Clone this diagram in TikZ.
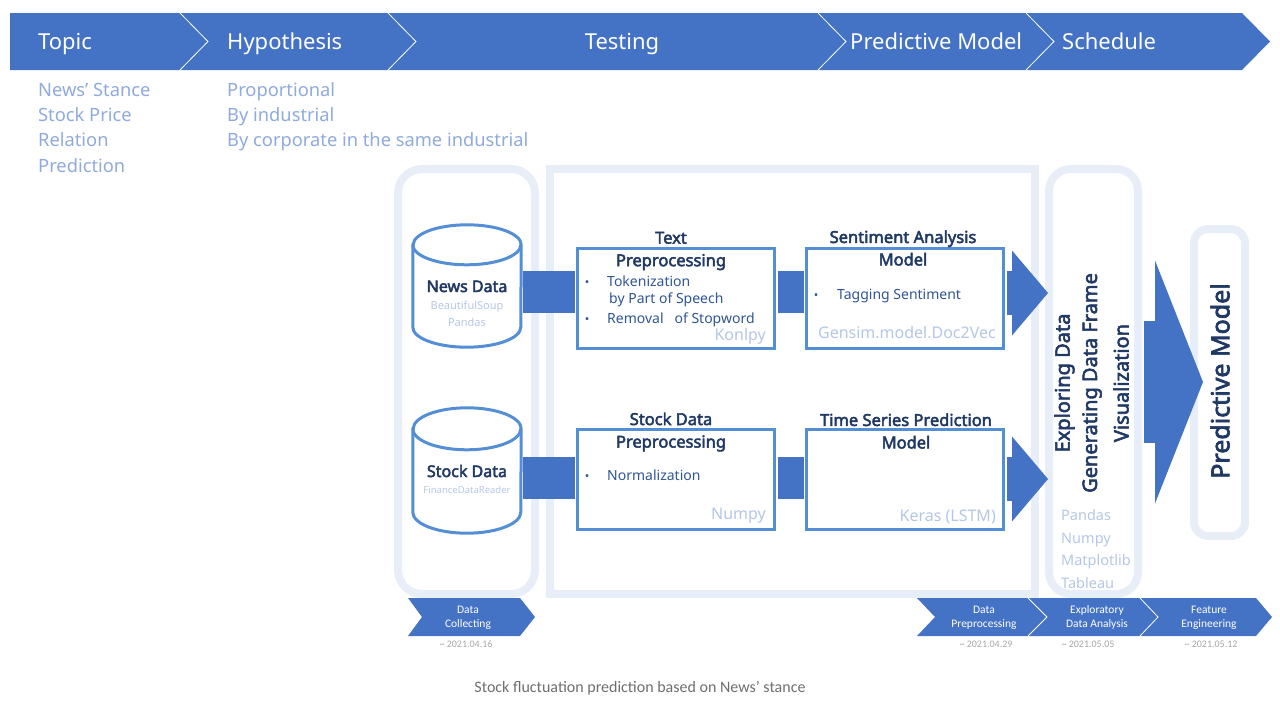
\documentclass[tikz,border=0pt]{standalone}
\usepackage{fontspec}
\setmainfont{Noto Sans}[AutoFakeBold=2.8]
\newfontfamily\chevfont{Carlito}
\usetikzlibrary{arrows.meta}
\definecolor{bannerblue}{RGB}{68,114,196}
\definecolor{boxblue}{RGB}{84,142,213}
\definecolor{framegray}{RGB}{232,238,248}
\definecolor{navy}{RGB}{32,56,100}
\definecolor{midnavy}{RGB}{47,85,151}
\definecolor{paleblue}{RGB}{180,199,231}
\definecolor{softblue}{RGB}{143,170,220}
\definecolor{dategray}{RGB}{166,166,166}
\definecolor{capgray}{RGB}{110,110,110}
\newcommand{\fsz}[2]{\fontsize{#1}{#2}\selectfont}
\begin{document}
\begin{tikzpicture}[x=1pt, y=-1pt,
  banner/.style={fill=bannerblue},
  sepline/.style={draw=white, line width=0.8pt},
  headtxt/.style={text=white, font=\fsz{22}{26}, inner sep=0pt},
  softtxt/.style={text=softblue, font=\fsz{18.3}{22}, inner sep=0pt, anchor=base west},
  stageframe/.style={draw=framegray, line width=8pt, inner sep=0pt},
  procbox/.style={draw=boxblue, fill=white, line width=3pt, minimum width=197pt, minimum height=100pt, inner sep=0pt},
  dbnode/.style={minimum width=108pt, inner sep=0pt},
  dbline/.style={draw=boxblue, line width=3pt},
  linkbar/.style={draw=bannerblue, line width=42pt, shorten <=1.5pt, shorten >=1.5pt},
  blockarrow/.style={draw=bannerblue, line width=44pt, shorten <=1.5pt, -{Triangle[length=36pt, width=85pt, line width=0pt]}},
  bigarrow/.style={draw=bannerblue, line width=122pt, shorten <=2pt, -{Triangle[length=48pt, width=243pt, line width=0pt]}},
  ttl/.style={text=navy, font=\bfseries\fsz{16.5}{22.5}, align=center, inner sep=0pt},
  dbttl/.style={text=navy, font=\bfseries\fsz{16}{18}, inner sep=0pt, anchor=base},
  dbsub/.style={text=paleblue, inner sep=0pt, anchor=base},
  dot/.style={text=midnavy, font=\fsz{12}{13}, inner sep=0pt, anchor=base},
  blt/.style={text=midnavy, font=\fsz{14}{17}, inner sep=0pt, anchor=base west},
  libtxt/.style={text=paleblue, font=\fsz{16}{19}, inner sep=0pt, anchor=base east},
  edatxt/.style={text=navy, font=\bfseries\fsz{20}{22}, inner sep=0pt, rotate=90},
  edalib/.style={text=paleblue, font=\fsz{14.5}{17}, inner sep=0pt, anchor=base west},
  pmtxt/.style={text=navy, font=\bfseries\fsz{25}{28}, inner sep=0pt, rotate=90},
  chevtxt/.style={text=white, font=\chevfont\fsz{11.5}{14}, align=center, inner sep=0pt},
  datetxt/.style={text=dategray, font=\chevfont\fsz{10}{12}, inner sep=0pt, anchor=base},
  captxt/.style={text=capgray, font=\chevfont\fsz{16}{19}, inner sep=0pt, anchor=base}]
\useasboundingbox (0,0) rectangle (1280,720);
% top banner
\fill[banner] (10,13) -- (1242,13) -- (1270,41.5) -- (1242,70) -- (10,70) -- cycle;
\draw[sepline] (180,13) -- (208,41.5) -- (180,70);
\draw[sepline] (388,13) -- (416,41.5) -- (388,70);
\draw[sepline] (818,13) -- (846,41.5) -- (818,70);
\draw[sepline] (1026,13) -- (1054,41.5) -- (1026,70);
\node[headtxt, anchor=base west] (topic) at (38,49) {Topic};
\node[headtxt, anchor=base west] (hypo) at (227,49) {Hypothesis};
\node[headtxt, anchor=base] (testing) at (622,49) {Testing};
\node[headtxt, anchor=base west] (predmodel) at (850,49) {Predictive Model};
\node[headtxt, anchor=base west] (schedule) at (1062,49) {Schedule};
\node[softtxt] (stance) at (38,96.5) {News’ Stance};
\node[softtxt] (price) at (38,121.5) {Stock Price};
\node[softtxt] (relation) at (38,146.5) {Relation};
\node[softtxt] (prediction) at (38,172.5) {Prediction};
\node[softtxt] (proportional) at (227,96.5) {Proportional};
\node[softtxt] (byind) at (227,121.5) {By industrial};
\node[softtxt] (bycorp) at (227,146.5) {By corporate in the same industrial};
% stage frames
\node[stageframe, rounded corners=24pt, minimum width=137pt, minimum height=425pt] (collect) at (466.5,381.5) {};
\node[stageframe, minimum width=485pt, minimum height=425pt] (test) at (792.5,381.5) {};
\node[stageframe, rounded corners=22pt, minimum width=89pt, minimum height=425pt] (eda) at (1093.5,381.5) {};
\node[stageframe, rounded corners=14pt, minimum width=51pt, minimum height=307pt] (pm) at (1219.5,382.5) {};
% databases
\node[dbnode, minimum height=122pt] (newsdb) at (467,286) {};
\node[dbnode, minimum height=125pt] (stockdb) at (467,470.5) {};
\draw[dbline] ([yshift=-20pt]newsdb.north west) -- ([yshift=20pt]newsdb.south west) arc[start angle=180, end angle=360, x radius=54pt, y radius=20pt] -- ([yshift=-20pt]newsdb.north east) arc[start angle=0, end angle=180, x radius=54pt, y radius=20pt] -- cycle;
\draw[dbline] ([yshift=-20pt]newsdb.north west) arc[start angle=180, end angle=360, x radius=54pt, y radius=20pt];
\draw[dbline] ([yshift=-21pt]stockdb.north west) -- ([yshift=21pt]stockdb.south west) arc[start angle=180, end angle=360, x radius=54pt, y radius=21pt] -- ([yshift=-21pt]stockdb.north east) arc[start angle=0, end angle=180, x radius=54pt, y radius=21pt] -- cycle;
\draw[dbline] ([yshift=-21pt]stockdb.north west) arc[start angle=180, end angle=360, x radius=54pt, y radius=21pt];
% boxes
\node[procbox] (textpre) at (676,298) {};
\node[procbox] (senti) at (905,298) {};
\node[procbox] (stockpre) at (676,479) {};
\node[procbox] (tsm) at (905,479) {};
\draw[linkbar] ([yshift=-6pt]newsdb.east) -- ([yshift=6pt]textpre.west);
\draw[linkbar] ([yshift=6pt]textpre.east) -- ([yshift=6pt]senti.west);
\draw[linkbar] ([yshift=-7.5pt]stockdb.east) -- ([yshift=1pt]stockpre.west);
\draw[linkbar] ([yshift=1pt]stockpre.east) -- ([yshift=1pt]tsm.west);
\coordinate (sentitip) at (1048,293);
\coordinate (tsmtip) at (1048,479);
\coordinate (pmtip) at (1203,382);
\draw[blockarrow] ([yshift=5pt]senti.east) -- (sentitip);
\draw[blockarrow] (tsm.east) -- (tsmtip);
\draw[bigarrow] (eda.east |- pmtip) -- (pmtip);
% texts
\node[dbttl] (newsttl) at (467,292) {News Data};
\node[dbsub, font=\fsz{11}{13}] (bsoup) at (467,309) {BeautifulSoup};
\node[dbsub, font=\fsz{11}{13}] (pandasa) at (467,326) {Pandas};
\node[dbttl] (stockdbttl) at (467,477) {Stock Data};
\node[dbsub, font=\fsz{9.5}{11}] (fdr) at (467,493) {FinanceDataReader};
\node[ttl] (textttl) at (671,251) {Text\\Preprocessing};
\node[ttl] (sentittl) at (903,248) {Sentiment Analysis\\Model};
\node[ttl] (stockttl) at (671,432) {Stock Data\\Preprocessing};
\node[ttl] (tsmttl) at (906,431) {Time Series Prediction\\Model};
\node[dot] (dota) at (587,286) {•};
\node[blt] (toka) at (607,286) {Tokenization};
\node[blt] (tokb) at (609,303) {by Part of Speech};
\node[dot] (dotb) at (587,323) {•};
\node[blt] (stop) at (607,323) {Removal\ \ \ of Stopword};
\node[dot] (dotc) at (816,299) {•};
\node[blt] (tag) at (837,299) {Tagging Sentiment};
\node[dot] (dotd) at (587,480) {•};
\node[blt] (norm) at (607,480) {Normalization};
\node[libtxt] (konlpy) at (766,340) {Konlpy};
\node[libtxt] (gensim) at (996,338) {Gensim.model.Doc2Vec};
\node[libtxt] (numpya) at (766,519) {Numpy};
\node[libtxt] (keras) at (996,521) {Keras (LSTM)};
\node[edatxt] (explore) at (1064.5,383) {Exploring Data};
\node[edatxt] (genframe) at (1092,383) {Generating Data Frame};
\node[edatxt] (visual) at (1121,383) {Visualization};
\node[edalib] (pandasb) at (1061,520) {Pandas};
\node[edalib] (numpyb) at (1061,543) {Numpy};
\node[edalib] (mpl) at (1061,565) {Matplotlib};
\node[edalib] (tableau) at (1061,588) {Tableau};
\node[pmtxt] (pmlabel) at (1220,381) {Predictive Model};
% schedule chevrons
\fill[banner] (408,598) -- (520,598) -- (535,617) -- (520,636) -- (408,636) -- (422,617) -- cycle;
\fill[banner] (917,598) -- (1256,598) -- (1272,617) -- (1256,636) -- (917,636) -- (935,617) -- cycle;
\draw[sepline] (1028,598) -- (1047,617) -- (1028,636);
\draw[sepline] (1140,598) -- (1158,617) -- (1140,636);
\node[chevtxt] (collecting) at (468,617.5) {Data\\Collecting};
\node[chevtxt] (preproc) at (984,617.5) {Data\\Preprocessing};
\node[chevtxt] (explor) at (1097,617.5) {Exploratory\\Data Analysis};
\node[chevtxt] (feature) at (1209,617.5) {Feature\\Engineering};
\node[datetxt] (datea) at (466,647) {\textasciitilde{} 2021.04.16};
\node[datetxt] (dateb) at (986,647) {\textasciitilde{} 2021.04.29};
\node[datetxt] (datec) at (1088,647) {\textasciitilde{} 2021.05.05};
\node[datetxt] (dated) at (1211,647) {\textasciitilde{} 2021.05.12};
\node[captxt] (caption) at (640,692) {Stock fluctuation prediction based on News’ stance};
\end{tikzpicture}
\end{document}
